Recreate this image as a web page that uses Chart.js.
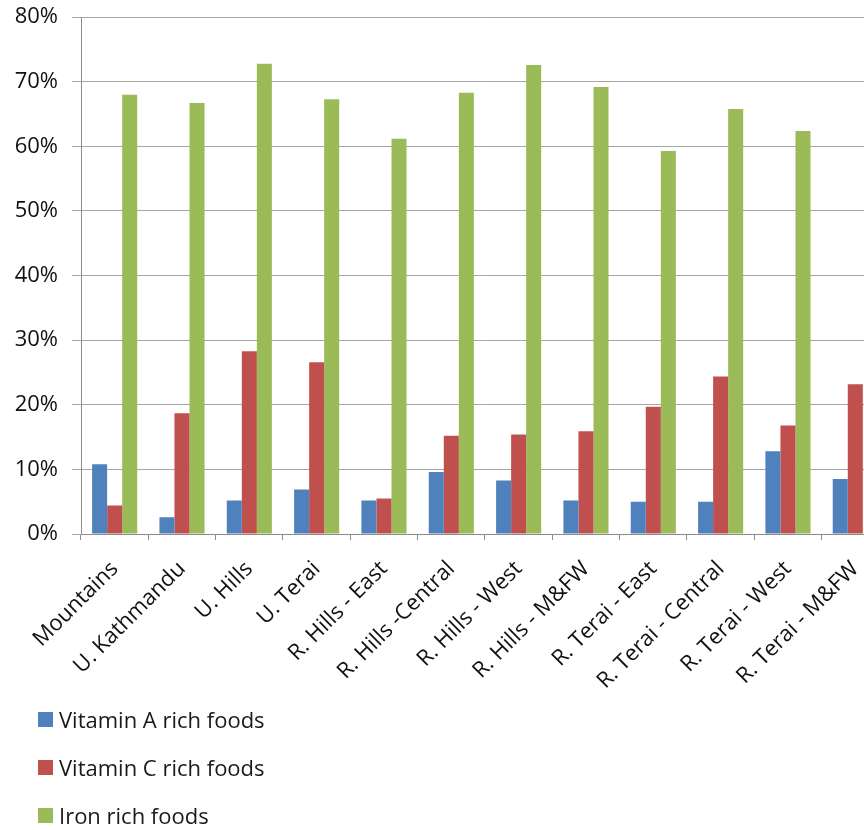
<!DOCTYPE html>
<html>
<head>
<meta charset="utf-8">
<script src="https://cdn.jsdelivr.net/npm/chart.js@4"></script>
<style>
  html, body { margin: 0; padding: 0; background: #fff; overflow: hidden; width: 864px; height: 830px; }
  #wrap { position: relative; width: 864px; height: 830px; overflow: hidden; }
  #chart { position: absolute; left: 0; top: -10px; }
  #legend { position: absolute; left: 38px; top: 695px; font-family: "Open Sans", sans-serif; font-size: 22px; color: #1a1a1a; }
  #legend div { height: 48px; display: flex; align-items: center; }
  #legend span.box { display: inline-block; width: 15px; height: 15px; margin-right: 6px; }
</style>
</head>
<body>
<div id="wrap">
  <canvas id="chart" width="890" height="710"></canvas>
  <div id="legend"></div>
</div>
<script>
var categories = ['Mountains', 'U. Kathmandu', 'U. Hills', 'U. Terai', 'R. Hills - East', 'R. Hills -Central',
	'R. Hills - West', 'R. Hills - M&FW', 'R. Terai - East', 'R. Terai - Central', 'R. Terai - West', 'R. Terai - M&FW'];
var vitaminA = [10.8, 2.6, 5.2, 6.9, 5.2, 9.6, 8.3, 5.2, 5.0, 5.0, 12.8, 8.5];
var vitaminC = [4.4, 18.7, 28.3, 26.6, 5.5, 15.2, 15.4, 15.9, 19.7, 24.4, 16.8, 23.2];
// last iron bar is cut off at the right edge of the picture
var iron = [68.0, 66.7, 72.8, 67.3, 61.2, 68.3, 72.6, 69.2, 59.3, 65.8, 62.4, null];
var seriesNames = ['Vitamin A rich foods', 'Vitamin C rich foods', 'Iron rich foods'];
var seriesColors = ['#4F81BD', '#C0504D', '#9BBB59'];
var yTicks = [0, 10, 20, 30, 40, 50, 60, 70, 80];

var font = { family: '"Open Sans", sans-serif', size: 22 };

var chart = new Chart(document.getElementById('chart').getContext('2d'), {
	type: 'bar',
	data: {
		labels: categories,
		datasets: [vitaminA, vitaminC, iron].map(function(d, i) {
			return {
				label: seriesNames[i],
				data: d,
				backgroundColor: seriesColors[i],
				borderWidth: 0,
				categoryPercentage: 0.67,
				barPercentage: 1
			};
		})
	},
	options: {
		responsive: false,
		animation: false,
		layout: { padding: { top: 6, right: 1, left: 0, bottom: 0 } },
		plugins: {
			legend: { display: false },
			tooltip: { enabled: false }
		},
		scales: {
			x: {
				grid: {
					offset: true,
					drawOnChartArea: false,
					drawTicks: true,
					tickLength: 6,
					color: '#8c8c8c'
				},
				border: { color: '#8c8c8c' },
				ticks: {
					font: font,
					color: '#111',
					minRotation: 45,
					maxRotation: 45,
					autoSkip: false,
					padding: 16
				},
				afterFit: function(scale) { scale.height = 166; }
			},
			y: {
				min: 0,
				max: 80,
				afterBuildTicks: function(scale) {
					scale.ticks = yTicks.map(function(v) { return { value: v }; });
				},
				grid: {
					color: '#a6a6a6',
					tickLength: 9,
					drawTicks: true
				},
				border: { color: '#8c8c8c' },
				ticks: {
					font: font,
					color: '#111',
					padding: 14,
					callback: function(v) { return v + '%'; }
				},
				afterFit: function(scale) { scale.width = 81; }
			}
		}
	}
});

var legend = document.getElementById('legend');
seriesNames.forEach(function(name, i) {
	var row = document.createElement('div');
	var box = document.createElement('span');
	box.className = 'box';
	box.style.background = seriesColors[i];
	row.appendChild(box);
	row.appendChild(document.createTextNode(name));
	legend.appendChild(row);
});
</script>
</body>
</html>
